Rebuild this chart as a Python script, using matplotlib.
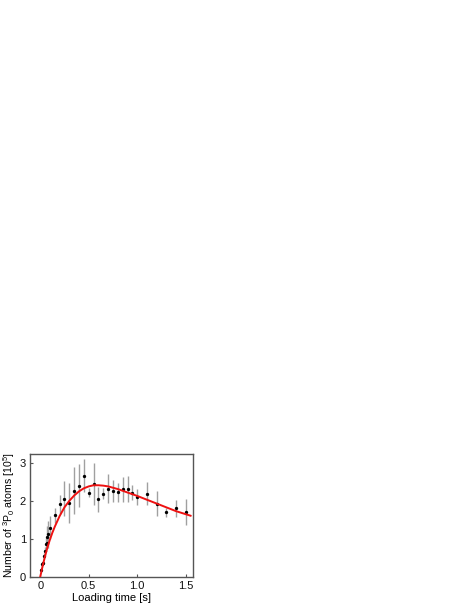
import matplotlib
matplotlib.use("Agg")
import matplotlib.pyplot as plt

plt.rcParams['font.family'] = ['Liberation Sans', 'DejaVu Sans']
plt.rcParams['mathtext.fontset'] = 'custom'
plt.rcParams['mathtext.rm'] = 'Liberation Sans'
plt.rcParams['mathtext.it'] = 'Liberation Sans:italic'

# measured data
t_data = [0.005, 0.015, 0.025, 0.035, 0.045, 0.055, 0.065, 0.075, 0.085, 0.1,
          0.15, 0.2, 0.25, 0.3, 0.35, 0.4, 0.45, 0.5, 0.55, 0.6, 0.65, 0.7,
          0.75, 0.8, 0.85, 0.9, 0.95, 1.0, 1.1, 1.2, 1.3, 1.4, 1.5]
n_data = [0.19, 0.33, 0.37, 0.56, 0.68, 0.88, 0.90, 1.05, 1.12, 1.30,
          1.62, 1.91, 2.06, 1.95, 2.27, 2.40, 2.66, 2.21, 2.45, 2.04, 2.19, 2.32,
          2.26, 2.23, 2.30, 2.31, 2.21, 2.10, 2.19, 1.93, 1.70, 1.80, 1.71]
n_err = [0.05, 0.06, 0.06, 0.08, 0.1, 0.15, 0.15, 0.3, 0.35, 0.3,
         0.2, 0.25, 0.47, 0.52, 0.62, 0.57, 0.43, 0.12, 0.55, 0.33, 0.15, 0.38,
         0.3, 0.25, 0.33, 0.35, 0.2, 0.2, 0.3, 0.33, 0.12, 0.22, 0.35]

# fit curve
t_fit = [0.0, 0.025, 0.05, 0.075, 0.1, 0.125, 0.15, 0.2, 0.25, 0.3, 0.35, 0.4, 0.45,
         0.5, 0.55, 0.6, 0.65, 0.7, 0.8, 0.9, 1.0, 1.1, 1.2, 1.3, 1.4, 1.5, 1.55]
n_fit = [0.0, 0.29, 0.55, 0.78, 0.98, 1.16, 1.32, 1.60, 1.83, 2.00, 2.14, 2.25, 2.33,
         2.38, 2.41, 2.41, 2.40, 2.38, 2.31, 2.22, 2.13, 2.03, 1.93, 1.83, 1.73, 1.65, 1.61]

xticks = [0, 0.5, 1.0, 1.5]
xtick_labels = ['0', '0.5', '1.0', '1.5']
yticks = [0, 1, 2, 3]

fig = plt.figure(figsize=(4.69, 6.07), dpi=100)
ax = fig.add_axes([0.064, 0.0494, 0.3475, 0.2026])

ax.errorbar(t_data, n_data, yerr=n_err, fmt='o', color='black', ms=2.4, mew=0,
            ecolor='#a0a0a0', elinewidth=1.0, capsize=0, zorder=2)
ax.plot(t_fit, n_fit, color='#ee1111', lw=1.4, zorder=3)

ax.set_xlim(-0.105, 1.575)
ax.set_ylim(0, 3.23)
ax.set_xticks(xticks)
ax.set_xticklabels(xtick_labels)
ax.set_yticks(yticks)
ax.tick_params(direction='in', length=2, width=0.8, labelsize=8, colors='#555555',
               labelcolor='#111111', pad=3)
for s in ax.spines.values():
    s.set_color('#555555')
    s.set_linewidth(1.0)

ax.set_xlabel('Loading time [s]', fontsize=8, labelpad=1)
ax.set_ylabel('Number of $^{3}$P$_{0}$ atoms [10$^{5}$]', fontsize=7.6, labelpad=2)

fig.savefig('out.png', dpi=100)
